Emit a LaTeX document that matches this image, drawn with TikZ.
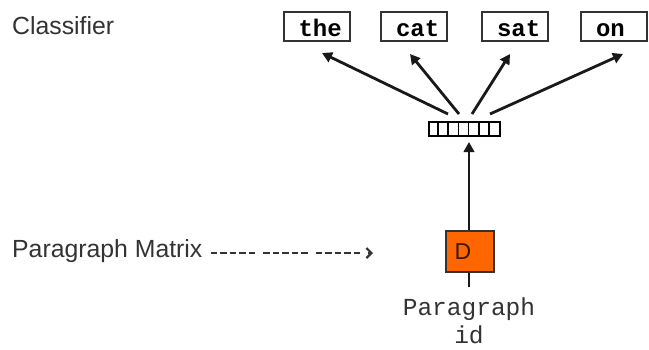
\documentclass[tikz,border=0pt]{standalone}
\usepackage{fontspec}
\setmainfont{Liberation Sans}
\setmonofont{Liberation Mono}
\usetikzlibrary{arrows.meta}
\definecolor{inkgrey}{HTML}{333333}
\definecolor{dorange}{HTML}{FF6600}
\definecolor{dbrown}{HTML}{3A1800}
\begin{document}
\begin{tikzpicture}[x=1pt,y=-1pt,
  label text/.style={font=\fontsize{24.8}{28}\selectfont, text=inkgrey, inner sep=0pt},
  wordbox/.style={draw=inkgrey, line width=2pt, minimum height=29pt, text width=44pt,
    inner xsep=11pt, inner ysep=0pt, align=left, text=black, text height=22pt, text depth=3pt,
    font=\ttfamily\bfseries\fontsize{24}{28}\selectfont},
  outarrow/.style={line width=2.8pt, draw=black!90, -{Triangle[length=10pt,width=10.5pt]}},
  cell/.style={draw=black, line width=2pt, minimum width=71pt, minimum height=14pt, inner sep=0pt}
]
\useasboundingbox (0,0) rectangle (649,349);

% titles on the left
\node[label text, anchor=base west] (cls) at (12,34) {Classifier};
\node[label text, anchor=base west, inner xsep=8pt] (pm) at (4,257) {Paragraph Matrix};

% output words
\node[wordbox] (w1) at (316.5,26.5) {\hspace*{4pt}the};
\node[wordbox] (w2) at (414,26.5) {\hspace*{4pt}cat};
\node[wordbox] (w3) at (515,26.5) {\hspace*{4pt}sat};
\node[wordbox] (w4) at (614,26.5) {\hspace*{4pt}on};

% hidden vector with its seven cells
\node[cell] (vec) at (464.5,129) {};
\foreach \i in {1,...,6}
  \draw[line width=1.6pt] ([xshift=\i*71pt/7]vec.south west) -- ([xshift=\i*71pt/7]vec.north west);

% paragraph token
\node[draw=inkgrey, line width=1.6pt, fill=dorange, minimum width=48pt, minimum height=41pt,
  inner sep=0pt, font=\fontsize{23}{26}\selectfont, text=dbrown] (d) at (470,251.5)
  {\hspace*{-14pt}D};
\node[font=\ttfamily\fontsize{24.5}{28}\selectfont, text=inkgrey, align=center, inner sep=0pt,
  anchor=base] (pid) at (469,343) {Paragraph\\id};

% connectors
\coordinate (a1) at (322,53);
\coordinate (a2) at (410,54);
\coordinate (a3) at (510,54);
\coordinate (a4) at (623,54);
\coordinate (s1) at (448,114);
\coordinate (s2) at (459,114);
\coordinate (s3) at (472,114);
\coordinate (s4) at (490,114);
\draw[outarrow] (s1) -- (a1);
\draw[outarrow] (s2) -- (a2);
\draw[outarrow] (s3) -- (a3);
\draw[outarrow] (s4) -- (a4);

\coordinate (vin) at (469,142);
\draw[outarrow] (d.north -| vin) -- (vin);
\coordinate (din) at (469,287);
\draw[line width=2.8pt, draw=black!90] (d.south -| din) -- (din);

\coordinate (pmend) at (373,253);
\draw[line width=2.2pt, draw=inkgrey,
  dash pattern=on 6.5pt off 3pt on 6.5pt off 3pt on 6.5pt off 3pt on 6.5pt off 3pt on 6.5pt off 8pt,
  -{Straight Barb[length=5pt,width=10pt]}] (pm.east |- pmend) -- (pmend);
\end{tikzpicture}
\end{document}
